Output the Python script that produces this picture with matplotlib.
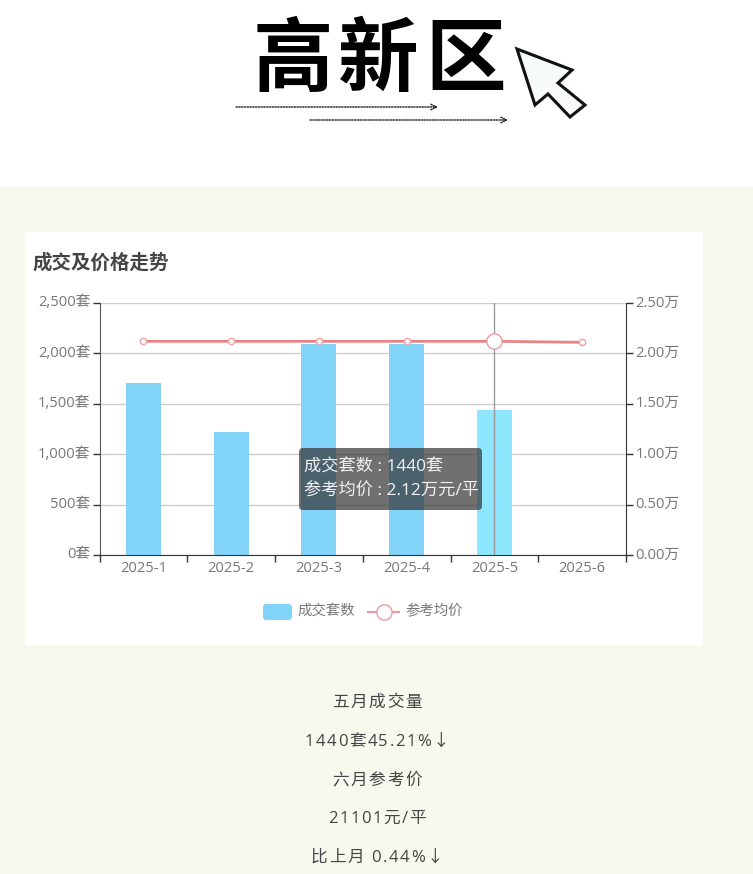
import matplotlib
matplotlib.use('Agg')
import matplotlib.pyplot as plt
import numpy as np
from matplotlib.font_manager import FontProperties
from matplotlib.patches import FancyBboxPatch, Polygon, Rectangle
from matplotlib.transforms import ScaledTranslation

fonts = ['Open Sans', 'Noto Sans CJK SC', 'DejaVu Sans']
plt.rcParams['font.family'] = fonts

# Data
months = ['2025-1', '2025-2', '2025-3', '2025-4', '2025-5', '2025-6']
deals = [1710, 1225, 2095, 2090, 1440, 0]
prices = [2.12, 2.12, 2.12, 2.12, 2.12, 2.11]
deal_ticks = [0, 500, 1000, 1500, 2000, 2500]
price_ticks = [0.0, 0.5, 1.0, 1.5, 2.0, 2.5]
summary_lines = ['五月成交量', '1440套45.21%↓', '六月参考价', '21101元/平', '比上月 0.44%↓']
hover_index = 4

W, H = 753, 874
fig = plt.figure(figsize=(W / 100, H / 100), dpi=100, facecolor='white')


def pixel_axes(zorder):
    a = fig.add_axes([0, 0, 1, 1], zorder=zorder)
    a.set_xlim(0, W)
    a.set_ylim(H, 0)
    a.axis('off')
    a.patch.set_alpha(0)
    return a


def spaced_text(a, cx, y, s, spacing, **kw):
    # matplotlib has no letter spacing, so place the characters one by one
    renderer = fig.canvas.get_renderer()
    prop = FontProperties(family=fonts, size=kw['fontsize'])
    widths = [renderer.get_text_width_height_descent(c, prop, False)[0] for c in s]
    left = cx - (sum(widths) + spacing * (len(s) - 1)) / 2
    for c, w in zip(s, widths):
        a.text(left, y, c, ha='left', va='center', **kw)
        left += w + spacing


# Background layer: page colour, white card, header
bg = pixel_axes(0)
bg.add_patch(Rectangle((0, 187), W, H - 187, color='#f7f9ee', lw=0))
bg.add_patch(Rectangle((25, 232), 678, 413, color='white', lw=0))
for ch, cx in zip('高新区', [293, 378, 466]):
    bg.text(cx, 62, ch, fontsize=58, fontweight='black', family='Noto Sans CJK SC',
            color='black', ha='center', va='center')
bg.annotate('', xy=(438, 107), xytext=(236, 107),
            arrowprops=dict(arrowstyle='->', lw=1, ls=(0, (1, 1)), color='#222222', shrinkA=0, shrinkB=0))
bg.annotate('', xy=(508, 120), xytext=(310, 120),
            arrowprops=dict(arrowstyle='->', lw=1, ls=(0, (1, 1)), color='#222222', shrinkA=0, shrinkB=0))
cursor = [(517, 49), (572, 70), (558, 83), (585, 105), (570, 117), (548, 94), (535, 105)]
bg.add_patch(Polygon(cursor, closed=True, fc='#f6fafa', ec='#111111', lw=2.2, joinstyle='miter'))
bg.text(33, 263, '成交及价格走势', fontsize=14, fontweight='bold', family='Noto Sans CJK SC',
        color='#444444', ha='left', va='center')
for line, y in zip(summary_lines, [703, 742, 781, 819, 858]):
    spaced_text(bg, 377, y, line, 1.6, fontsize=12, color='#444444')

# Chart
ax = fig.add_axes([99.5 / W, 1 - 555 / H, 526.5 / W, 252 / H], zorder=1)
ax.patch.set_alpha(0)
x = np.arange(len(months))
colors = ['#81d3f8'] * len(months)
colors[hover_index] = '#8ee6ff'
ax.bar(x, deals, width=0.4, color=colors, zorder=2)
ax.set_xlim(-0.5, len(months) - 0.5)
ax.set_ylim(deal_ticks[0], deal_ticks[-1])
ax.set_yticks(deal_ticks)
ax.set_yticklabels([f'{v:,}套' for v in deal_ticks])
ax.set_xticks(x)
ax.set_xticklabels(months)
ax.set_xticks(np.arange(-0.5, len(months)), minor=True)
ax.tick_params(axis='x', which='major', length=0, pad=4, labelsize=10.6, labelcolor='#777777')
ax.tick_params(axis='x', which='minor', length=5, width=1, color='#333333')
ax.tick_params(axis='y', length=5, width=1, color='#333333', pad=1.5, labelsize=10.6, labelcolor='#777777')
ax.grid(axis='y', color='#cccccc', lw=1, zorder=0)
ax.set_axisbelow(True)
for s in ['top', 'right']:
    ax.spines[s].set_visible(False)
ax.spines['left'].set_color('#555555')
ax.spines['bottom'].set_color('#333333')

ax2 = ax.twinx()
ax2.set_ylim(price_ticks[0], price_ticks[-1])
ax2.set_yticks(price_ticks)
ax2.set_yticklabels([f'{v:.2f}万' for v in price_ticks])
ax2.tick_params(axis='y', length=5, width=1, color='#333333', pad=2, labelsize=10.6, labelcolor='#777777')
for s in ['top', 'left', 'bottom']:
    ax2.spines[s].set_visible(False)
ax2.spines['right'].set_color('#333333')
ax2.plot(x, prices, color='#e88384', lw=2, marker='o', ms=4.5, mfc='white', mec='#eda0a5', mew=1, zorder=3)
ax2.axvline(x[hover_index], color='#999999', lw=1, zorder=4)
ax2.plot(x[hover_index], prices[hover_index], 'o', ms=11, mfc='white', mec='#eb9aa2', mew=1, zorder=5)

# Value labels sit a little above their ticks
nudge = ScaledTranslation(0, 1.5 / 72, fig.dpi_scale_trans)
for lab in ax.get_yticklabels() + ax2.get_yticklabels():
    lab.set_transform(lab.get_transform() + nudge)

# Tooltip and legend on top
fg = pixel_axes(2)
fg.add_patch(FancyBboxPatch((303, 452), 175, 54, boxstyle='round,pad=4,rounding_size=4',
                            fc=(0.2, 0.2, 0.2, 0.7), ec='none'))
fg.text(304, 468, f'成交套数 : {deals[hover_index]}套', fontsize=12.4, color='#f2f2f2', ha='left', va='center')
fg.text(304, 492, f'参考均价 : {prices[hover_index]:.2f}万元/平', fontsize=12.4, color='#f2f2f2', ha='left', va='center')
fg.add_patch(FancyBboxPatch((265, 606), 25, 12, boxstyle='round,pad=2,rounding_size=3', fc='#81d3f8', ec='none'))
fg.text(298, 611, '成交套数', fontsize=10.4, color='#777777', ha='left', va='center')
fg.plot([368, 399], [612, 612], color='#eb9aa2', lw=1.5)
fg.plot([384], [612], 'o', ms=11, mfc='white', mec='#eb9aa2', mew=1)
fg.text(405, 611, '参考均价', fontsize=10.4, color='#777777', ha='left', va='center')

fig.savefig('out.png', dpi=100)
